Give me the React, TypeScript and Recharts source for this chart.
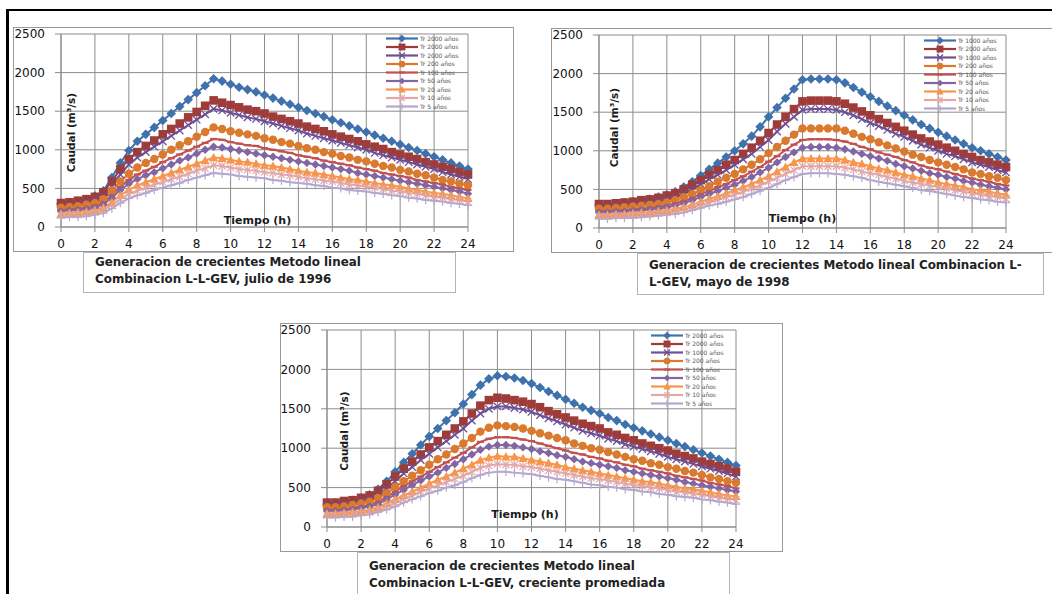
import React from 'react';
import { LineChart, Line, XAxis, YAxis, CartesianGrid, Legend } from 'recharts';

const hours = [0,0.5,1,1.5,2,2.5,3,3.5,4,4.5,5,5.5,6,6.5,7,7.5,8,8.5,9,9.5,10,10.5,11,11.5,12,12.5,13,13.5,14,14.5,15,15.5,16,16.5,17,17.5,18,18.5,19,19.5,20,20.5,21,21.5,22,22.5,23,23.5,24];
const xTicks = [0,2,4,6,8,10,12,14,16,18,20,22,24];
const yTicks = [0,500,1000,1500,2000,2500];

// Chart 1: julio de 1996
const c1s1 = [300,315,335,360,400,470,640,830,990,1110,1200,1290,1380,1470,1560,1650,1740,1830,1920,1890,1850,1810,1780,1750,1710,1670,1630,1590,1550,1510,1470,1430,1390,1350,1310,1270,1230,1190,1150,1110,1070,1030,990,950,910,870,830,790,750];
const c1s2 = [310,320,340,360,390,450,590,750,880,970,1050,1120,1200,1270,1340,1420,1490,1570,1640,1610,1580,1550,1520,1500,1470,1430,1400,1370,1340,1300,1270,1240,1200,1170,1140,1110,1070,1040,1010,970,940,910,880,840,810,780,750,710,680];
const c1s3 = [270,280,300,320,350,400,530,680,810,900,970,1040,1110,1180,1250,1320,1390,1460,1530,1510,1480,1450,1420,1400,1370,1340,1310,1280,1250,1210,1180,1150,1120,1090,1060,1030,1000,960,930,900,870,840,810,780,750,710,680,650,620];
const c1s4 = [250,260,270,290,310,360,470,590,690,770,830,880,940,1000,1060,1110,1170,1230,1290,1270,1240,1220,1200,1180,1150,1130,1100,1080,1050,1020,1000,970,950,920,900,870,850,820,790,770,740,720,690,670,640,610,590,560,540];
const c1s5 = [220,230,240,250,280,320,410,520,610,680,730,780,840,890,940,990,1040,1090,1140,1130,1100,1080,1060,1050,1020,1000,980,960,930,910,890,860,840,820,800,770,750,730,700,680,660,640,610,590,570,550,520,500,480];
const c1s6 = [200,210,220,230,250,290,380,480,560,620,670,710,760,810,860,900,950,1000,1040,1030,1010,990,970,950,930,910,890,870,850,830,810,790,770,750,730,700,680,660,640,620,600,580,560,540,520,500,480,460,430];
const c1s7 = [170,180,190,200,220,250,320,410,480,540,580,620,660,700,740,780,820,860,900,890,870,850,840,820,800,790,770,750,730,710,700,680,660,640,620,610,590,570,550,540,520,500,480,460,440,430,410,390,370];
const c1s8 = [150,160,160,170,190,220,290,360,430,470,510,550,580,620,650,690,730,760,800,790,770,750,740,730,710,700,680,670,650,630,620,600,590,570,550,540,520,510,490,470,460,440,430,410,390,380,360,350,330];
const c1s9 = [120,130,130,140,160,180,240,310,370,410,440,480,510,540,570,610,640,670,700,690,680,660,650,640,630,610,600,580,570,560,540,530,510,500,480,470,460,440,430,410,400,380,370,350,340,330,310,300,280];

// Chart 2: mayo de 1998
const c2s1 = [300,305,315,325,340,355,375,400,430,470,530,600,680,760,840,920,1000,1090,1190,1310,1440,1560,1680,1800,1920,1930,1930,1930,1920,1880,1820,1760,1700,1640,1580,1520,1460,1400,1340,1290,1240,1190,1140,1090,1040,1000,960,920,880];
const c2s2 = [310,310,320,330,340,360,370,390,420,450,500,560,620,690,750,820,880,960,1040,1130,1230,1340,1440,1540,1640,1650,1650,1650,1640,1610,1560,1510,1460,1410,1360,1310,1260,1210,1160,1120,1080,1040,1000,960,920,880,850,820,790];
const c2s3 = [270,270,280,290,300,310,330,350,370,400,450,500,570,630,690,750,820,890,960,1050,1140,1250,1350,1440,1530,1540,1540,1540,1530,1500,1460,1410,1360,1320,1270,1220,1180,1130,1080,1040,1000,960,930,890,850,820,790,750,720];
const c2s4 = [250,250,260,270,280,290,300,310,330,360,400,440,490,540,600,650,700,760,820,890,970,1050,1130,1210,1290,1290,1290,1290,1290,1260,1220,1180,1150,1110,1070,1030,990,950,920,880,850,820,790,760,720,700,670,650,620];
const c2s5 = [220,220,230,230,240,250,260,280,290,320,350,390,440,480,530,570,620,670,730,790,860,930,1010,1080,1140,1150,1150,1150,1140,1120,1090,1050,1020,980,950,920,880,850,810,780,760,730,700,670,640,620,600,570,550];
const c2s6 = [200,200,210,210,220,230,240,250,270,290,320,360,400,440,480,520,560,610,660,720,780,850,920,980,1040,1050,1050,1050,1040,1020,990,960,930,900,870,830,800,770,740,710,690,660,640,610,590,560,540,520,500];
const c2s7 = [170,170,180,180,190,200,200,220,230,250,270,300,340,380,410,450,490,530,570,620,670,730,790,850,900,900,900,900,900,880,850,830,800,770,750,720,690,670,640,620,590,570,550,530,500,490,470,450,430];
const c2s8 = [150,150,160,160,170,170,180,190,200,220,240,270,300,330,370,400,430,470,510,550,600,650,700,750,800,800,800,800,800,780,760,730,710,690,660,640,610,590,570,550,530,510,490,470,450,430,410,400,380];
const c2s9 = [120,120,130,130,130,140,150,160,170,180,200,230,260,290,310,340,370,400,440,480,520,570,620,660,700,710,710,710,700,690,670,650,620,600,580,560,540,520,490,480,460,440,420,400,390,370,360,340,330];

// Chart 3: creciente promediada
const c3s1 = [290,305,320,340,370,410,480,580,700,820,930,1040,1150,1250,1350,1450,1560,1680,1800,1880,1920,1910,1890,1860,1820,1770,1720,1670,1620,1570,1520,1480,1440,1390,1350,1300,1260,1220,1180,1140,1100,1060,1020,980,940,900,860,820,780];
const c3s2 = [310,310,330,340,370,400,460,540,640,740,830,920,1010,1090,1170,1250,1340,1440,1540,1610,1640,1630,1610,1590,1560,1520,1470,1430,1390,1350,1310,1280,1250,1200,1170,1130,1100,1060,1030,1000,970,930,900,870,830,800,770,740,700];
const c3s3 = [270,270,290,300,330,360,410,490,580,680,760,850,930,1010,1090,1170,1250,1350,1440,1500,1530,1530,1510,1490,1460,1420,1380,1340,1300,1260,1220,1190,1160,1120,1090,1050,1020,990,960,930,890,860,830,800,770,740,710,680,640];
const c3s4 = [250,250,260,280,300,320,370,430,510,580,650,720,790,860,920,990,1060,1130,1210,1260,1290,1280,1270,1250,1220,1190,1160,1130,1100,1060,1030,1000,980,950,920,890,860,840,810,790,760,740,710,690,660,630,610,580,560];
const c3s5 = [220,220,230,240,260,280,320,380,450,520,580,640,700,760,820,880,940,1010,1080,1120,1140,1140,1130,1110,1090,1060,1030,1000,970,940,920,890,870,840,820,790,770,740,720,700,680,650,630,610,590,560,540,520,490];
const c3s6 = [200,200,210,220,240,260,290,350,410,470,530,590,640,690,750,800,860,920,980,1020,1040,1040,1030,1010,990,960,940,910,890,860,830,810,790,770,750,720,700,680,660,640,620,600,570,550,530,510,490,470,450];
const c3s7 = [170,170,180,190,200,220,250,300,350,400,450,500,550,600,640,690,740,790,850,880,900,890,890,870,850,830,810,790,760,740,720,700,680,660,640,620,600,580,570,550,530,510,490,480,460,440,420,400,390];
const c3s8 = [150,150,160,170,180,190,220,260,310,360,400,450,490,530,570,610,650,700,750,780,800,790,790,770,760,740,720,700,680,660,640,620,610,590,570,550,530,520,500,490,470,450,440,420,410,390,370,360,340];
const c3s9 = [120,120,130,130,150,160,190,220,260,310,350,390,430,460,500,530,570,620,660,690,700,700,690,680,670,650,630,610,600,580,560,540,530,510,500,480,470,450,440,420,410,390,380,370,350,340,320,310,290];

const labels1 = ['Tr 2000 años','Tr 2000 años','Tr 2000 años','Tr 200 años','Tr 100 años','Tr 50 años','Tr 20 años','Tr 10 años','Tr 5 años'];
const labels2 = ['Tr 1000 años','Tr 2000 años','Tr 1000 años','Tr 200 años','Tr 100 años','Tr 50 años','Tr 20 años','Tr 10 años','Tr 5 años'];
const labels3 = ['Tr 2000 años','Tr 2000 años','Tr 1000 años','Tr 200 años','Tr 100 años','Tr 50 años','Tr 20 años','Tr 10 años','Tr 5 años'];

const caption1 = ['Generacion de crecientes Metodo lineal', 'Combinacion L-L-GEV, julio de 1996'];
const caption2 = ['Generacion de crecientes Metodo lineal Combinacion L-', 'L-GEV, mayo de 1998'];
const caption3 = ['Generacion de crecientes Metodo lineal', 'Combinacion L-L-GEV, creciente promediada'];

const seriesKeys = ['s1','s2','s3','s4','s5','s6','s7','s8','s9'];
const colors = ['#3F71AC','#9F3B39','#6D4F95','#D97A2E','#C4504D','#8266A4','#F7954A','#E2A7A6','#B6A7CE'];
const shapes = ['diamond','square','x','circle','dash','diamond2','triangle','asterisk','plus'];

const FONT = '"DejaVu Sans", Verdana, sans-serif';
const GRID = '#8c8c8c';

function buildRows(series: number[][]) {
  return hours.map((t, i) => {
    const row: any = { t };
    series.forEach((s, k) => { row[seriesKeys[k]] = s[i]; });
    return row;
  });
}

const rows1 = buildRows([c1s1,c1s2,c1s3,c1s4,c1s5,c1s6,c1s7,c1s8,c1s9]);
const rows2 = buildRows([c2s1,c2s2,c2s3,c2s4,c2s5,c2s6,c2s7,c2s8,c2s9]);
const rows3 = buildRows([c3s1,c3s2,c3s3,c3s4,c3s5,c3s6,c3s7,c3s8,c3s9]);

function Marker({ cx, cy, shape, color, s = 1 }: any) {
  if (cx == null || cy == null || isNaN(cx) || isNaN(cy)) return null;
  switch (shape) {
    case 'diamond': {
      const r = 4.8 * s;
      return <polygon points={`${cx},${cy - r} ${cx + r},${cy} ${cx},${cy + r} ${cx - r},${cy}`} fill={color} />;
    }
    case 'diamond2': {
      const r = 4.2 * s;
      return <polygon points={`${cx},${cy - r} ${cx + r},${cy} ${cx},${cy + r} ${cx - r},${cy}`} fill={color} />;
    }
    case 'square': {
      const r = 4.3 * s;
      return <rect x={cx - r} y={cy - r} width={2 * r} height={2 * r} fill={color} />;
    }
    case 'circle':
      return <circle cx={cx} cy={cy} r={4.2 * s} fill={color} />;
    case 'triangle': {
      const r = 4.6 * s;
      return <polygon points={`${cx},${cy - r} ${cx + r},${cy + r * 0.8} ${cx - r},${cy + r * 0.8}`} fill={color} />;
    }
    case 'x': {
      const r = 3.7 * s;
      return (
        <g stroke={color} strokeWidth={1.3}>
          <line x1={cx - r} y1={cy - r} x2={cx + r} y2={cy + r} />
          <line x1={cx - r} y1={cy + r} x2={cx + r} y2={cy - r} />
        </g>
      );
    }
    case 'asterisk': {
      const r = 3.5 * s;
      return (
        <g stroke={color} strokeWidth={1.1}>
          <line x1={cx - r} y1={cy - r} x2={cx + r} y2={cy + r} />
          <line x1={cx - r} y1={cy + r} x2={cx + r} y2={cy - r} />
          <line x1={cx} y1={cy - r * 1.2} x2={cx} y2={cy + r * 1.2} />
        </g>
      );
    }
    case 'plus': {
      const r = 4.2 * s;
      return (
        <g stroke={color} strokeWidth={1.2}>
          <line x1={cx - r} y1={cy} x2={cx + r} y2={cy} />
          <line x1={cx} y1={cy - r} x2={cx} y2={cy + r} />
        </g>
      );
    }
    case 'dash': {
      const r = 3.5 * s;
      return <line x1={cx - r} y1={cy} x2={cx + r} y2={cy} stroke={color} strokeWidth={2.2} />;
    }
    default:
      return null;
  }
}

const makeLegend = () => (props: any) => {
  const payload = [...(props.payload || [])].sort(
    (a: any, b: any) => seriesKeys.indexOf(a.dataKey) - seriesKeys.indexOf(b.dataKey)
  );
  return (
    <svg width={100} height={84} style={{ overflow: 'visible', display: 'block' }}>
      {payload.map((entry: any, i: number) => {
        const k = seriesKeys.indexOf(entry.dataKey);
        const y = 4.5 + i * 8.5;
        return (
          <g key={i}>
            <line x1={1} y1={y} x2={33} y2={y} stroke={entry.color} strokeWidth={2.2} />
            <Marker cx={17} cy={y} shape={shapes[k]} color={entry.color} s={0.8} />
            <text x={35} y={y + 2.2} fontSize={6} fontFamily={FONT} fill="#555">{entry.value}</text>
          </g>
        );
      })}
    </svg>
  );
};

type PanelProps = {
  left: number; top: number; width: number; height: number;
  rows: any[]; labels: string[];
  yW: number; right: number;
  yDx: number; yDy: number; xDx: number; xOff: number;
  legLeft: number; legTop: number;
};

function Panel(p: PanelProps) {
  const iw = p.width - 2;
  const ih = p.height - 2;
  return (
    <div style={{ position: 'absolute', left: p.left, top: p.top, width: p.width, height: p.height, border: '1px solid #9a9a9a', boxSizing: 'border-box', background: '#fff' }}>
      <LineChart width={iw} height={ih} data={p.rows} margin={{ top: 6, right: p.right, left: 0, bottom: 0 }}>
        <CartesianGrid stroke={GRID} strokeWidth={1} />
        <XAxis
          dataKey="t" type="number" domain={[0, 24]} ticks={xTicks} interval={0}
          height={24} tickSize={5} tickMargin={7} stroke={GRID}
          tick={{ fill: '#111', fontSize: 12, fontFamily: FONT }}
          label={{ value: 'Tiempo (h)', position: 'top', offset: p.xOff, dx: p.xDx, fill: '#1a1a1a', fontSize: 11, fontWeight: 'bold', fontFamily: FONT }}
        />
        <YAxis
          type="number" domain={[0, 2500]} ticks={yTicks} interval={0}
          width={p.yW} tickSize={6} tickMargin={10} stroke={GRID}
          tick={{ fill: '#111', fontSize: 12, fontFamily: FONT }}
          label={{ value: 'Caudal (m³/s)', angle: -90, position: 'center', dx: p.yDx, dy: p.yDy, fill: '#1a1a1a', fontSize: 10.5, fontWeight: 'bold', fontFamily: FONT }}
        />
        <Legend
          layout="vertical" align="right" verticalAlign="top"
          content={makeLegend()}
          wrapperStyle={{ left: p.legLeft, top: p.legTop, width: 0, height: 0, overflow: 'visible' }}
        />
        {seriesKeys.map((key, i) => (
          <Line
            key={key}
            dataKey={key}
            name={p.labels[i]}
            type="linear"
            stroke={colors[i]}
            strokeWidth={2}
            isAnimationActive={false}
            activeDot={false}
            dot={(d: any) => <Marker key={`${key}-${d.index}`} cx={d.cx} cy={d.cy} shape={shapes[i]} color={colors[i]} />}
          />
        ))}
      </LineChart>
    </div>
  );
}

function Caption({ left, top, width, height, lines, padTop }: any) {
  return (
    <div style={{ position: 'absolute', left, top, width, height, border: '1px solid #b4b4b4', boxSizing: 'border-box', background: '#fff', paddingLeft: 11, paddingTop: padTop, fontFamily: FONT, fontWeight: 'bold', fontSize: 11.9, lineHeight: '16.5px', color: '#222', whiteSpace: 'nowrap' }}>
      {lines.map((l: string, i: number) => <div key={i}>{l}</div>)}
    </div>
  );
}

export default function App() {
  return (
    <div style={{ position: 'absolute', left: 0, top: 0, width: 1052, height: 594, background: '#fff', overflow: 'hidden' }}>
      <div style={{ position: 'absolute', left: 6, top: 9, width: 1046, height: 2, background: '#000' }} />
      <div style={{ position: 'absolute', left: 6, top: 9, width: 3, height: 585, background: '#000' }} />

      <Panel left={13} top={27} width={501} height={225} rows={rows1} labels={labels1}
        yW={47} right={45} yDx={34} yDy={2} xDx={-7} xOff={3} legLeft={371} legTop={6} />
      <Caption left={83} top={252} width={373} height={41} lines={caption1} padTop={1} />

      <Panel left={551} top={28} width={503} height={225} rows={rows2} labels={labels2}
        yW={47} right={47} yDx={38.5} yDy={-4} xDx={0} xOff={6} legLeft={371} legTop={7} />
      <Caption left={637} top={253} width={407} height={42} lines={caption2} padTop={3} />

      <Panel left={280} top={323} width={503} height={229} rows={rows3} labels={labels3}
        yW={46} right={46} yDx={40} yDy={2.5} xDx={-6.5} xOff={9} legLeft={369} legTop={7} />
      <Caption left={357} top={552} width={373} height={60} lines={caption3} padTop={5} />
    </div>
  );
}
